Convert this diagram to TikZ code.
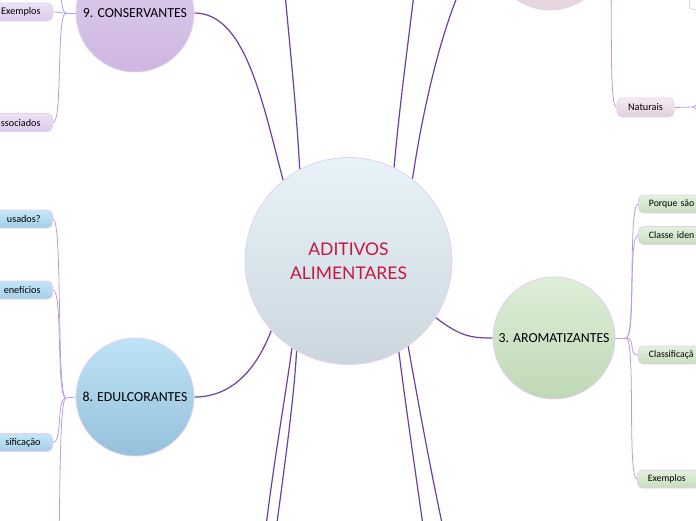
\documentclass[tikz,border=0pt]{standalone}
\usepackage{fontspec}
\setmainfont{Carlito}
\newfontfamily\centerfont{Lato}
\usetikzlibrary{backgrounds}
\definecolor{mainline}{HTML}{6E3FA3}
\definecolor{subline}{HTML}{BA9CD8}
\definecolor{rim}{HTML}{E2D2F0}
\definecolor{ctop}{HTML}{E8F3F9}
\definecolor{cbot}{HTML}{CBD6DF}
\definecolor{ptop}{HTML}{E3D0EF}
\definecolor{pbot}{HTML}{CDB6E0}
\definecolor{btop}{HTML}{BFE3F6}
\definecolor{bbot}{HTML}{94C1DB}
\definecolor{gtop}{HTML}{DDEFD8}
\definecolor{gbot}{HTML}{C0D8B6}
\definecolor{rtop}{HTML}{F2E6EE}
\definecolor{rbot}{HTML}{E6D4DE}
\definecolor{pbtop}{HTML}{EEE2F6}
\definecolor{pbbot}{HTML}{DCC9EA}
\definecolor{bbtop}{HTML}{C6E6F7}
\definecolor{bbbot}{HTML}{A3CFE8}
\definecolor{gbtop}{HTML}{E3F1DD}
\definecolor{gbbot}{HTML}{C8DDBF}
\definecolor{nbtop}{HTML}{F4EAF0}
\definecolor{nbbot}{HTML}{E2D0DB}
\definecolor{crim}{HTML}{C8163E}
\tikzset{
  topic/.style={circle, draw=rim, line width=0.8pt, minimum size=118pt, inner sep=0pt,
    font=\fontsize{13.8}{15}\selectfont, text=black},
  boxbase/.style={rectangle, rounded corners=5pt, draw=rim, line width=0.8pt,
    minimum height=18pt, inner ysep=0pt, font=\fontsize{10.2}{12}\selectfont, text=black},
  leftbox/.style={boxbase, text width=70pt, align=right, inner xsep=12pt, anchor=east},
  rightbox/.style={boxbase, text width=70pt, align=left, inner xsep=10.5pt, anchor=west,
    font=\fontsize{9.8}{12}\selectfont},
  purplebox/.style={top color=pbtop, bottom color=pbbot},
  bluebox/.style={top color=bbtop, bottom color=bbbot},
  greenbox/.style={top color=gbtop, bottom color=gbbot},
  mainconn/.style={draw=mainline, line width=1.2pt},
  subconn/.style={draw=subline, line width=0.8pt},
}
\begin{document}
\begin{tikzpicture}[x=1pt,y=-1pt]
\useasboundingbox (0,0) rectangle (696,520);

% main topics
\node[topic, minimum size=207pt, top color=ctop, bottom color=cbot, text=crim,
  align=center, font=\centerfont\fontsize{17.5}{24}\selectfont] (c) at (348.5,261) {ADITIVOS\\ALIMENTARES};
\node[topic, top color=ptop, bottom color=pbot] (cons) at (135,13) {9. CONSERVANTES};
\node[topic, top color=btop, bottom color=bbot] (edul) at (135,397) {8. EDULCORANTES};
\node[topic, minimum size=122pt, top color=gtop, bottom color=gbot] (arom) at (554,338) {3. AROMATIZANTES};
\node[topic, top color=rtop, bottom color=rbot] (pink) at (550,-49) {};

% subtopics
\node[leftbox, purplebox] (ex1) at (53,12) {Exemplos};
\node[leftbox, purplebox] (assoc) at (53,122.5) {ssociados};
\node[leftbox, bluebox] (usad) at (53,219) {usados?};
\node[leftbox, bluebox] (bene) at (53,290) {enefícios};
\node[leftbox, bluebox] (clas1) at (53,442.5) {sificação};
\node[rightbox, greenbox] (porq) at (638,204) {Porque são};
\node[rightbox, greenbox] (clid) at (638,235.5) {Classe iden};
\node[rightbox, greenbox] (clas2) at (638,355) {Classificaçã};
\node[rightbox, greenbox] (ex2) at (637,479) {Exemplos};
\node[boxbase, minimum width=57pt, minimum height=19pt, inner xsep=0pt,
  top color=nbtop, bottom color=nbbot] (nat) at (645.5,107.5) {Naturais};
\node[rectangle, rounded corners=4pt, draw=rim, line width=0.8pt, fill=white,
  minimum width=40pt, minimum height=36pt, anchor=south west] (trbox) at (689,10) {};

% junctions and off-frame ends
\coordinate (consJ) at (66,13);
\coordinate (consUp) at (53,-80);
\coordinate (edulJ) at (66,398);
\coordinate (edulDn) at (53,620);
\coordinate (aromJ) at (626,338);
\coordinate (pinkJ) at (606,-49);
\coordinate (natJ) at (693,107);
\coordinate (natUp) at (703,70);
\coordinate (natDn) at (703,144);
\coordinate (t1) at (282,-40);
\coordinate (t2) at (418,-40);
\coordinate (b1) at (262,560);
\coordinate (b2) at (272,560);
\coordinate (b3) at (428,560);
\coordinate (b4) at (450,560);

\begin{scope}[on background layer]
% main connectors
\draw[mainconn] (cons.east) .. controls (245,13) and (262,100) .. (c.129);
\draw[mainconn] (c.118) .. controls (296,100) and (288,30) .. (t1);
\draw[mainconn] (c.64) .. controls (400,100) and (410,30) .. (t2);
\draw[mainconn] (pink.west) .. controls (465,-49) and (430,60) .. (c.52);
\draw[mainconn] (edul.east) .. controls (235,397) and (258,365) .. (c.222);
\draw[mainconn] (c.-33) .. controls (460,336) and (470,338) .. (arom.west);
\draw[mainconn] (c.237) .. controls (285,400) and (272,470) .. (b1);
\draw[mainconn] (c.240.7) .. controls (294,400) and (284,470) .. (b2);
\draw[mainconn] (c.299.3) .. controls (405,400) and (415,470) .. (b3);
\draw[mainconn] (c.305.8) .. controls (418,400) and (430,470) .. (b4);

% sub connectors
\draw[subconn] (cons.west) -- (consJ);
\draw[subconn] (consJ) .. controls +(-10,0) and +(10,0) .. (ex1.east);
\draw[subconn] (consJ) .. controls +(-10,0) and +(10,0) .. (assoc.east);
\draw[subconn] (consJ) .. controls +(-10,0) and +(10,0) .. (consUp);

\draw[subconn] (edul.west) -- (edulJ);
\draw[subconn] (edulJ) .. controls +(-10,0) and +(10,0) .. (usad.east);
\draw[subconn] (edulJ) .. controls +(-10,0) and +(10,0) .. (bene.east);
\draw[subconn] (edulJ) .. controls +(-10,0) and +(10,0) .. (clas1.east);
\draw[subconn] (edulJ) .. controls +(-10,0) and +(10,0) .. (edulDn);

\draw[subconn] (arom.east) -- (aromJ);
\draw[subconn] (aromJ) .. controls +(10,0) and +(-10,0) .. (porq.west);
\draw[subconn] (aromJ) .. controls +(10,0) and +(-10,0) .. (clid.west);
\draw[subconn] (aromJ) .. controls +(10,0) and +(-10,0) .. (clas2.west);
\draw[subconn] (aromJ) .. controls +(10,0) and +(-10,0) .. (ex2.west);

\draw[subconn] (pink.east) -- (pinkJ);
\draw[subconn] (pinkJ) .. controls +(10,0) and +(-10,0) .. (nat.west);
\draw[subconn] (pinkJ) .. controls +(10,0) and +(-10,0) .. (trbox.west);

\draw[subconn] (nat.east) -- (natJ);
\draw[subconn] (natJ) .. controls +(10,0) and +(-10,0) .. (natUp);
\draw[subconn] (natJ) .. controls +(10,0) and +(-10,0) .. (natDn);
\end{scope}
\end{tikzpicture}
\end{document}
